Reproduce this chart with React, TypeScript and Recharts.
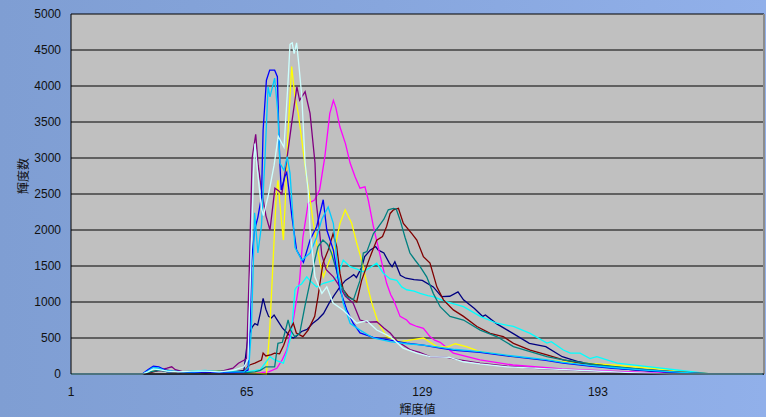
import React from "react";
import { LineChart, Line, XAxis, YAxis, CartesianGrid, ReferenceLine } from "recharts";

// [輝度値, 輝度数] points, one list per series
const navy: [number, number][] = [[1,0],[27,0],[29,40],[31,90],[33,70],[36,30],[40,20],[45,30],[50,20],[55,35],[60,25],[64,50],[65.5,520],[67,650],[68,700],[69,680],[70,850],[71,1050],[72,900],[73,800],[74,780],[75,820],[76,760],[77,700],[78,640],[80,560],[81,520],[82,500],[83,520],[85,590],[87,620],[89,700],[91,760],[93,840],[95,980],[97,1100],[99,1210],[101,1300],[103,1350],[104,1380],[105,1340],[107,1490],[108,1630],[110,1720],[112,1770],[113,1720],[115,1680],[117,1540],[118,1490],[119,1560],[121,1370],[123,1330],[126,1310],[129,1300],[133,1210],[136,1075],[139,1080],[142,1140],[144,1030],[148,910],[151,800],[152,820],[156,700],[160,610],[162,565],[168,425],[174,380],[180,240],[186,170],[195,100],[205,60],[215,30],[224,0],[253,0]];
const magenta: [number, number][] = [[1,0],[27,0],[30,30],[33,50],[36,40],[40,20],[45,40],[50,30],[55,20],[60,20],[66,20],[70,20],[73,30],[76,80],[78,200],[79.6,333],[82,750],[84.3,1300],[85.5,1900],[87.4,2370],[89,2400],[89.8,2420],[91.6,2560],[93.5,3020],[95.3,3620],[96.6,3800],[97.5,3700],[99,3430],[101,3200],[102.7,2930],[104.5,2740],[106.3,2580],[108.1,2600],[109.3,2420],[111.2,2045],[113.6,1650],[116,1260],[117.5,1100],[118.5,1030],[120.9,800],[123.3,750],[124.5,700],[127,660],[129.4,635],[131.8,520],[133.5,470],[135.5,440],[140.3,290],[150,195],[162,125],[180,70],[198,40],[215,15],[230,0],[253,0]];
const yellow: [number, number][] = [[1,0],[27,0],[30,40],[33,80],[35,60],[38,40],[42,30],[46,40],[50,30],[55,40],[60,30],[65,20],[70,10],[72.2,0],[73.4,610],[74.6,1540],[75.8,2500],[76.4,2690],[77.5,2200],[78.4,1860],[79.2,2500],[80,3300],[80.8,3850],[81.4,4270],[82.6,3850],[83.8,3620],[85.1,3250],[86.5,2830],[88,2450],[89.3,2100],[91.7,1540],[93,1350],[94.8,1540],[97.2,1770],[99,2090],[100.9,2280],[103.3,2090],[105.1,1820],[106.9,1580],[108.8,1260],[110.6,985],[113,705],[116.1,520],[120.9,450],[124.5,470],[129.4,500],[134.3,380],[138,375],[141,420],[145,380],[150,310],[162,240],[180,170],[198.5,125],[215,70],[225,30],[234,0],[253,0]];
const cyan: [number, number][] = [[1,0],[27,0],[30,50],[32,70],[35,40],[40,20],[45,40],[50,50],[55,30],[60,40],[65,30],[70,60],[73.5,240],[75.2,195],[78.4,150],[79.6,300],[81.3,550],[82.6,1170],[83.2,1210],[85,1250],[86.9,1350],[88,1300],[90.5,1210],[93,1260],[96.6,1300],[98,1350],[100.2,1580],[102.7,1490],[105,1460],[107.5,1420],[110,1480],[112.4,1540],[114.8,1400],[117.3,1320],[119.7,1300],[121.5,1210],[123.3,1170],[126,1150],[128.2,1120],[131,1090],[133,1075],[136,1030],[138,1000],[144,935],[150.1,800],[156.1,705],[162.2,660],[168.3,565],[174.4,430],[176,450],[180.4,333],[182.9,290],[186.5,290],[190.1,215],[192.6,240],[198.5,170],[200,150],[212,100],[224,45],[234,0],[253,0]];
const purple: [number, number][] = [[1,0],[27,0],[30,30],[33,50],[36,80],[37.7,100],[39,60],[42,30],[46,30],[50,40],[55,30],[60,80],[62,150],[64,190],[65,220],[66,1500],[67,3000],[68.3,3330],[69.2,2900],[70.4,2555],[72,2200],[73.5,2000],[75.3,2580],[76.5,2550],[77.8,2500],[79,2800],[81.4,3480],[83.3,3990],[84.3,3800],[86.3,3920],[88.1,3620],[89.9,2930],[90.4,2370],[91.5,2000],[92.4,1650],[94,1450],[96.6,1350],[99,1210],[101,1080],[103.8,985],[106.3,750],[109,720],[112.4,726],[115,640],[117.3,570],[120,450],[124.5,340],[128,300],[131.8,240],[138,230],[142,200],[150,150],[160,110],[170,80],[180,60],[190,40],[200,25],[210,10],[220,0],[253,0]];
const maroon: [number, number][] = [[1,0],[27,0],[30,20],[33,50],[36,40],[40,20],[45,30],[50,20],[55,30],[60,30],[64,40],[66.1,125],[68,150],[70.4,195],[71,290],[72,250],[74,270],[75.2,290],[77,280],[78.5,400],[80,560],[82,705],[83.1,570],[85.5,520],[87.4,610],[89.8,800],[91,1075],[92.8,1540],[94.7,1720],[96.5,1950],[97.8,1770],[99,1400],[100.2,1170],[102,1080],[105.1,1000],[106.9,1300],[110,1630],[112.4,1860],[114.5,1910],[116,2050],[117.3,2230],[118.5,2280],[120.3,2300],[122.1,2090],[125.2,1950],[127,1860],[129.4,1630],[131.8,1540],[134.3,1210],[136.7,1030],[140.3,890],[144,800],[148.9,660],[153.7,565],[158.5,520],[162.2,425],[168.3,333],[174.4,265],[180.4,195],[186.5,150],[193,125],[198.5,100],[210,60],[222,30],[235,0],[253,0]];
const teal: [number, number][] = [[1,0],[27,0],[30,30],[33,50],[36,40],[40,30],[45,40],[50,30],[55,40],[60,30],[65,20],[68,30],[70,50],[72,100],[75.2,100],[76.4,425],[78,440],[80.1,750],[81,610],[82.5,520],[84.3,560],[86.2,935],[88,1260],[89.8,1580],[91,1770],[92.8,1860],[94.5,1800],[95.9,1680],[97.7,1445],[99,1260],[101.5,1075],[103.9,1030],[106.3,1300],[107.5,1680],[108.8,1700],[111.2,1950],[113,2045],[115,2150],[116.6,2280],[118.5,2300],[119.5,2290],[120.9,2140],[122.7,1900],[124.5,1680],[126.4,1580],[128.2,1490],[130.6,1350],[133,1120],[135.5,935],[139.1,800],[144,750],[150.1,610],[156.1,520],[162.2,380],[168.3,310],[174.4,240],[180.4,195],[193,125],[204.7,80],[215,45],[228,0],[253,0]];
const blue: [number, number][] = [[1,0],[27,0],[29,60],[31,110],[33,100],[35,60],[38,40],[42,30],[46,20],[50,30],[55,20],[60,20],[64,30],[65.5,55],[66.2,610],[66.7,1540],[67.9,2000],[69.1,2180],[70.4,2460],[71,3390],[72.2,4080],[73.4,4220],[75.2,4220],[76.2,4130],[76.7,3390],[77.1,2930],[77.6,2555],[78.9,2740],[79.6,2800],[80.4,2555],[81.5,2180],[83.2,1720],[85.7,1550],[88.1,1860],[90.5,2045],[92.9,2420],[94.2,2000],[96.6,1720],[99,1170],[101.5,890],[103.8,705],[106.3,570],[111.1,510],[117.3,470],[123.3,430],[129.3,400],[135.5,360],[141,330],[150,300],[162,240],[174,190],[180.3,150],[190,110],[198.5,80],[210,50],[222,20],[232,0],[253,0]];
const skyBlue: [number, number][] = [[1,0],[27,0],[29,40],[31,90],[33,80],[35,50],[38,40],[42,30],[46,30],[50,40],[55,30],[60,30],[64,30],[65.8,100],[66.7,600],[67.4,1500],[67.9,2240],[69.1,1680],[70.4,2060],[71.6,2930],[72.8,3990],[73.5,3850],[75.2,4110],[76.4,3620],[77.1,2930],[78.6,2830],[79.8,3020],[80.8,2790],[82.6,1760],[85.1,1580],[88.1,1680],[90.5,1900],[92.4,2150],[94.7,2320],[96.6,2090],[98.3,1400],[100.2,985],[102.7,705],[106.3,610],[111.1,500],[117.3,450],[123.3,420],[129.3,400],[135.5,370],[141,340],[150,310],[162,250],[174,200],[180.3,160],[190,120],[198.5,90],[210,55],[222,25],[234,0],[253,0]];
const paleTurquoise: [number, number][] = [[1,0],[27,0],[29,30],[31,70],[33,60],[36,40],[40,30],[45,40],[50,40],[55,30],[60,50],[64,100],[65.5,200],[66.5,1500],[67.5,2800],[68,3200],[69,2800],[70.4,2300],[71.1,2200],[73,2500],[75,2900],[76.5,3300],[78.6,3150],[80,4000],[80.8,4580],[81.6,4600],[82.3,4450],[83.2,4600],[84,4300],[85.1,3850],[86.3,2930],[87.4,2555],[88.1,2000],[89.9,1350],[92.4,1120],[94.2,1210],[96.5,985],[100.1,890],[105.1,705],[108.8,740],[112.4,610],[117.3,520],[122,360],[127,290],[131.8,240],[139,230],[144,170],[150,140],[160,100],[175,70],[190,45],[205,20],[220,0],[253,0]];

const xTicks = [1, 65, 129, 193];
const yTicks = [0, 500, 1000, 1500, 2000, 2500, 3000, 3500, 4000, 4500, 5000];
const xTitle = "輝度値";
const yTitle = "輝度数";

const series: { name: string; color: string; pts: [number, number][] }[] = [
  { name: "s1", color: "#000080", pts: navy },
  { name: "s2", color: "#FF00FF", pts: magenta },
  { name: "s3", color: "#FFFF00", pts: yellow },
  { name: "s4", color: "#00FFFF", pts: cyan },
  { name: "s5", color: "#800080", pts: purple },
  { name: "s6", color: "#800000", pts: maroon },
  { name: "s7", color: "#008080", pts: teal },
  { name: "s8", color: "#0000FF", pts: blue },
  { name: "s9", color: "#00CCFF", pts: skyBlue },
  { name: "s10", color: "#CCFFFF", pts: paleTurquoise },
];

const font = "'Liberation Sans', Arial, sans-serif";
const cjk = "'Noto Sans CJK JP', 'Liberation Sans', sans-serif";

export default function App() {
  return (
    <div
      style={{
        position: "absolute",
        left: 0,
        top: 0,
        width: 766,
        height: 417,
        background: "linear-gradient(90deg, #7F9ED3 0%, #87A6DD 50%, #91B0EA 100%)",
      }}
    >
      <LineChart width={766} height={417} margin={{ top: 14, right: 2, bottom: 0, left: 0 }}>
        <CartesianGrid vertical={false} stroke="#000" fill="#C0C0C0" fillOpacity={1} />
        <XAxis
          dataKey="x"
          type="number"
          domain={[1, 253.5]}
          allowDataOverflow
          ticks={xTicks}
          height={43}
          tickLine={false}
          tickSize={6}
          tickMargin={7}
          stroke="#000"
          tick={{ fill: "#111", fontSize: 12, fontFamily: font }}
          label={{ value: xTitle, position: "insideBottom", offset: 3, fill: "#111", fontSize: 12, fontFamily: cjk }}
        />
        <YAxis
          type="number"
          domain={[0, 5000]}
          ticks={yTicks}
          width={71}
          tickLine={false}
          tickSize={6}
          tickMargin={4}
          stroke="#000"
          tick={{ fill: "#111", fontSize: 12, fontFamily: font }}
          label={{ value: yTitle, angle: -90, position: "insideLeft", offset: 24, fill: "#111", fontSize: 12, fontFamily: cjk }}
        />
        <ReferenceLine x={253.5} stroke="#8C8C8C" strokeWidth={2} ifOverflow="visible" />
        {series.map((s) => (
          <Line
            key={s.name}
            name={s.name}
            data={s.pts.map(([x, y]) => ({ x, y }))}
            dataKey="y"
            type="linear"
            stroke={s.color}
            strokeWidth={1.3}
            dot={false}
            activeDot={false}
            isAnimationActive={false}
          />
        ))}
      </LineChart>
    </div>
  );
}
